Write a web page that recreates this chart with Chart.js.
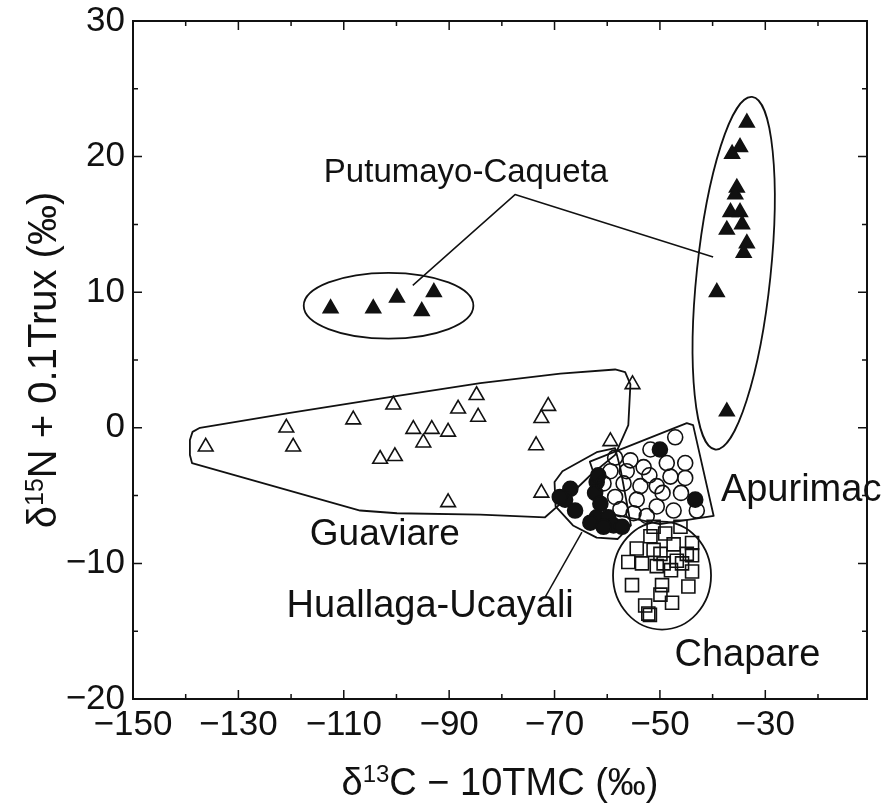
<!DOCTYPE html>
<html>
<head>
<meta charset="utf-8">
<script src="https://cdn.jsdelivr.net/npm/chart.js@4"></script>
<style>
  html, body { margin: 0; padding: 0; background: #ffffff; }
  #wrap { width: 893px; height: 804px; }
</style>
</head>
<body>
<div id="wrap"><canvas id="c" width="893" height="804"></canvas></div>
<script>
// Axis ticks
const xTickValues = [-150, -130, -110, -90, -70, -50, -30];
const xMinorTicks = [-140, -120, -100, -80, -60, -40, -20];
const yTickValues = [-20, -10, 0, 10, 20, 30];
const yMinorTicks = [-15, -5, 5, 15, 25];

// Putumayo-Caqueta (filled triangles)
const putumayoX = [-112.5, -104.4, -99.9, -95.2, -92.9,
  -33.5, -34.8, -36.3, -35.4, -35.7, -36.6, -34.8, -34.4, -37.3, -33.5, -34.1, -39.2, -37.3];
const putumayoY = [8.8, 8.8, 9.6, 8.6, 10.0,
  22.5, 20.7, 20.2, 17.7, 17.2, 15.9, 15.9, 15.0, 14.6, 13.6, 12.9, 10.0, 1.2];

// Guaviare (open triangles)
const guaviareX = [-136.2, -120.9, -119.6, -108.2, -100.6, -103.1, -100.3, -96.8, -93.3, -90.2,
  -94.9, -88.3, -84.8, -84.5, -90.2, -72.5, -71.2, -73.5, -72.5, -59.4, -55.2];
const guaviareY = [-1.4, 0.0, -1.4, 0.6, 1.7, -2.3, -2.1, -0.1, -0.1, -0.3,
  -1.1, 1.4, 2.4, 0.8, -5.5, 0.7, 1.6, -1.3, -4.8, -1.0, 3.2];

// Apurimac (open circles)
const apurimacX = [-47.1, -51.8, -45.2, -45.2, -48.7, -48.0, -55.6, -56.3, -53.1, -50.6,
  -53.7, -56.9, -58.5, -54.4, -50.6, -47.4, -43.0, -59.4, -60.7, -52.0,
  -49.5, -57.5, -55.0, -52.5, -46.0, -58.5];
const apurimacY = [-0.7, -1.6, -2.6, -3.7, -2.6, -3.6, -2.4, -3.2, -2.9, -4.3,
  -4.3, -4.1, -5.1, -5.3, -5.8, -6.1, -6.1, -3.2, -4.1, -3.5,
  -4.8, -6.0, -6.3, -6.5, -4.8, -2.2];

// Huallaga-Ucayali (filled circles)
const huallagaX = [-67.0, -68.0, -66.1, -69.0, -62.0, -61.7, -62.3, -61.3, -62.0, -59.8,
  -58.8, -57.2, -63.2, -60.7, -50.0, -43.3];
const huallagaY = [-4.5, -5.3, -6.1, -5.1, -4.0, -3.5, -4.8, -5.6, -6.6, -6.6,
  -7.2, -7.3, -7.0, -7.3, -1.6, -5.3];

// Chapare (open squares)
const chapareX = [-56.0, -55.3, -52.8, -51.9, -49.6, -49.9, -47.7, -44.6, -43.9, -43.9,
  -46.8, -49.3, -51.2, -53.4, -54.4, -47.4, -43.9, -51.8, -49.0, -46.1,
  -51.2, -49.9, -44.9, -50.6, -45.8, -47.9, -52.2];
const chapareY = [-9.9, -11.6, -13.1, -13.8, -11.6, -12.3, -12.9, -11.7, -10.6, -9.4,
  -9.8, -10.0, -9.0, -10.0, -8.9, -8.6, -8.5, -8.0, -7.8, -7.3,
  -7.3, -9.3, -9.3, -10.2, -10.0, -10.5, -13.7];

// Group outlines (data coordinates)
const guaviareHull = [[-139.2, -0.9], [-138.7, -0.3], [-137.3, 0.0], [-120.2, 1.1], [-100.7, 2.3],
  [-84.1, 3.3], [-68.9, 4.0], [-58.5, 4.3], [-56.6, 4.1], [-55.6, 3.2], [-56.0, 0.2],
  [-58.5, -2.0], [-63.2, -3.5], [-68.0, -5.3], [-71.8, -6.6], [-84.1, -6.4], [-99.9, -6.3],
  [-106.9, -6.1], [-138.8, -2.6], [-139.2, -2.0]];
const apurimacHull = [[-63.3, -2.5], [-44.9, 0.35], [-43.7, 0.2], [-39.8, -6.5], [-50.0, -7.1],
  [-60.0, -6.3]];
const huallagaHull = [[-70.0, -4.0], [-68.5, -3.2], [-62.0, -1.8], [-58.5, -1.5], [-57.5, -3.0],
  [-55.5, -7.2], [-58.0, -8.2], [-62.0, -8.1], [-66.5, -7.2], [-69.8, -5.8]];
const putumayoLeftEllipse = { cx: -101.5, cy: 9.0, rx: 16.1, ry: 2.43 };
const putumayoRightEllipse = { cx: -36.0, cy: 11.4, tipX: -32.5, tipY: 24.4, halfWidth: 7.0 };
const chapareEllipse = { cx: -49.6, cy: -10.9, rx: 9.3, ry: 3.98 };

// Labels and leader lines (data coordinates)
const groupLabels = [
  { text: 'Putumayo-Caqueta', x: -86.8, y: 18.8, size: 33 },
  { text: 'Guaviare', x: -102.2, y: -7.9, size: 37 },
  { text: 'Apurimac', x: -23.2, y: -4.6, size: 38 },
  { text: 'Huallaga-Ucayali', x: -93.6, y: -13.2, size: 38 },
  { text: 'Chapare', x: -33.4, y: -16.8, size: 38 }
];
const leaderLines = [
  [[-96.9, 10.5], [-77.5, 17.2], [-39.9, 12.6]],
  [[-64.8, -7.7], [-71.8, -12.5]]
];

const FONT = '"Liberation Sans", Arial, Helvetica, sans-serif';
const INK = '#111111';

function pts(xs, ys) { return xs.map((x, i) => ({ x: x, y: ys[i] })); }
function minus(v) { return v < 0 ? '\u2212' + Math.abs(v) : String(v); }

function drawTitle(ctx, parts, cx, base, rot, size) {
  const big = size + 'px ' + FONT, small = Math.round(size * 0.62) + 'px ' + FONT;
  let w = 0;
  parts.forEach(p => { ctx.font = p[1] ? small : big; w += ctx.measureText(p[0]).width; });
  ctx.save();
  ctx.translate(cx, base);
  ctx.rotate(rot);
  ctx.textAlign = 'left';
  ctx.textBaseline = 'alphabetic';
  let x = -w / 2;
  parts.forEach(p => {
    ctx.font = p[1] ? small : big;
    ctx.fillText(p[0], x, p[1] ? -size * 0.33 : 0);
    x += ctx.measureText(p[0]).width;
  });
  ctx.restore();
}

const overlayPlugin = {
  id: 'overlay',
  beforeDatasetsDraw(chart) {
    const ctx = chart.ctx, xs = chart.scales.x, ys = chart.scales.y;
    const px = v => xs.getPixelForValue(v), py = v => ys.getPixelForValue(v);
    ctx.save();
    ctx.strokeStyle = INK;
    ctx.lineWidth = 1.8;
    ctx.lineJoin = 'round';
    [guaviareHull, apurimacHull, huallagaHull].forEach(h => {
      ctx.beginPath();
      h.forEach((p, i) => i ? ctx.lineTo(px(p[0]), py(p[1])) : ctx.moveTo(px(p[0]), py(p[1])));
      ctx.closePath();
      ctx.stroke();
    });
    [putumayoLeftEllipse, chapareEllipse].forEach(e => {
      const cx = px(e.cx), cy = py(e.cy);
      const rx = Math.abs(px(e.cx + e.rx) - cx), ry = Math.abs(py(e.cy + e.ry) - cy);
      ctx.beginPath();
      ctx.ellipse(cx, cy, rx, ry, 0, 0, Math.PI * 2);
      ctx.stroke();
    });
    const r = putumayoRightEllipse;
    const cx = px(r.cx), cy = py(r.cy), tx = px(r.tipX), ty = py(r.tipY);
    const major = Math.hypot(tx - cx, ty - cy), ang = Math.atan2(ty - cy, tx - cx);
    const minor = Math.abs(px(r.cx + r.halfWidth) - cx);
    ctx.beginPath();
    ctx.ellipse(cx, cy, major, minor, ang, 0, Math.PI * 2);
    ctx.stroke();
    ctx.lineWidth = 1.5;
    leaderLines.forEach(l => {
      ctx.beginPath();
      l.forEach((p, i) => i ? ctx.lineTo(px(p[0]), py(p[1])) : ctx.moveTo(px(p[0]), py(p[1])));
      ctx.stroke();
    });
    ctx.restore();
  },
  afterDraw(chart) {
    const ctx = chart.ctx, xs = chart.scales.x, ys = chart.scales.y;
    const a = chart.chartArea;
    ctx.save();
    ctx.strokeStyle = INK;
    ctx.fillStyle = INK;
    ctx.lineWidth = 2;
    ctx.strokeRect(a.left, a.top, a.right - a.left, a.bottom - a.top);
    ctx.lineWidth = 1.5;
    ctx.beginPath();
    const tickX = (v, len) => {
      const x = xs.getPixelForValue(v);
      ctx.moveTo(x, a.bottom); ctx.lineTo(x, a.bottom - len);
      ctx.moveTo(x, a.top); ctx.lineTo(x, a.top + len);
    };
    const tickY = (v, len) => {
      const y = ys.getPixelForValue(v);
      ctx.moveTo(a.left, y); ctx.lineTo(a.left + len, y);
      ctx.moveTo(a.right, y); ctx.lineTo(a.right - len, y);
    };
    xTickValues.forEach(v => tickX(v, 9));
    xMinorTicks.forEach(v => tickX(v, 5));
    yTickValues.forEach(v => tickY(v, 9));
    yMinorTicks.forEach(v => tickY(v, 5));
    ctx.stroke();
    ctx.textAlign = 'center';
    ctx.textBaseline = 'middle';
    groupLabels.forEach(l => {
      ctx.font = l.size + 'px ' + FONT;
      ctx.fillText(l.text, xs.getPixelForValue(l.x), ys.getPixelForValue(l.y));
    });
    drawTitle(ctx, [['\u03b4', 0], ['13', 1], ['C \u2212 10TMC (\u2030)', 0]], (a.left + a.right) / 2, 795, 0, 38);
    drawTitle(ctx, [['\u03b4', 0], ['15', 1], ['N + 0.1Trux (\u2030)', 0]], 56, 360, -Math.PI / 2, 40);
    ctx.restore();
  }
};

const markerBase = { borderColor: INK, borderWidth: 1.6, pointHoverRadius: 0 };

new Chart(document.getElementById('c'), {
  type: 'scatter',
  data: {
    datasets: [
      Object.assign({ label: 'Putumayo-Caqueta', data: pts(putumayoX, putumayoY),
        pointStyle: 'triangle', pointRadius: 8.5, backgroundColor: INK }, markerBase),
      Object.assign({ label: 'Guaviare', data: pts(guaviareX, guaviareY),
        pointStyle: 'triangle', pointRadius: 8.5, backgroundColor: 'rgba(0,0,0,0)' }, markerBase),
      Object.assign({ label: 'Apurimac', data: pts(apurimacX, apurimacY),
        pointStyle: 'circle', pointRadius: 7.5, backgroundColor: 'rgba(0,0,0,0)' }, markerBase),
      Object.assign({ label: 'Huallaga-Ucayali', data: pts(huallagaX, huallagaY),
        pointStyle: 'circle', pointRadius: 7.5, backgroundColor: INK }, markerBase),
      Object.assign({ label: 'Chapare', data: pts(chapareX, chapareY),
        pointStyle: 'rect', pointRadius: 9.2, backgroundColor: 'rgba(0,0,0,0)' }, markerBase)
    ]
  },
  options: {
    responsive: false,
    animation: false,
    devicePixelRatio: 1,
    layout: { padding: { top: 21, right: 26, left: 0, bottom: 0 } },
    plugins: { legend: { display: false }, tooltip: { enabled: false } },
    events: [],
    scales: {
      x: {
        type: 'linear', min: -150, max: -10.7,
        grid: { display: false, drawTicks: false },
        border: { display: false },
        afterBuildTicks: s => { s.ticks = xTickValues.map(v => ({ value: v })); },
        afterFit: s => { s.height = 105; s.paddingLeft = 0; s.paddingRight = 0; },
        ticks: { color: INK, font: { family: FONT, size: 35 }, padding: 5, maxRotation: 0,
          autoSkip: false, callback: v => minus(v) }
      },
      y: {
        type: 'linear', min: -20, max: 30,
        grid: { display: false, drawTicks: false },
        border: { display: false },
        afterBuildTicks: s => { s.ticks = yTickValues.map(v => ({ value: v })); },
        afterFit: s => { s.width = 133; s.paddingTop = 0; s.paddingBottom = 0; },
        ticks: { color: INK, font: { family: FONT, size: 35 }, padding: 8,
          autoSkip: false, callback: v => minus(v) }
      }
    }
  },
  plugins: [overlayPlugin]
});
</script>
</body>
</html>
